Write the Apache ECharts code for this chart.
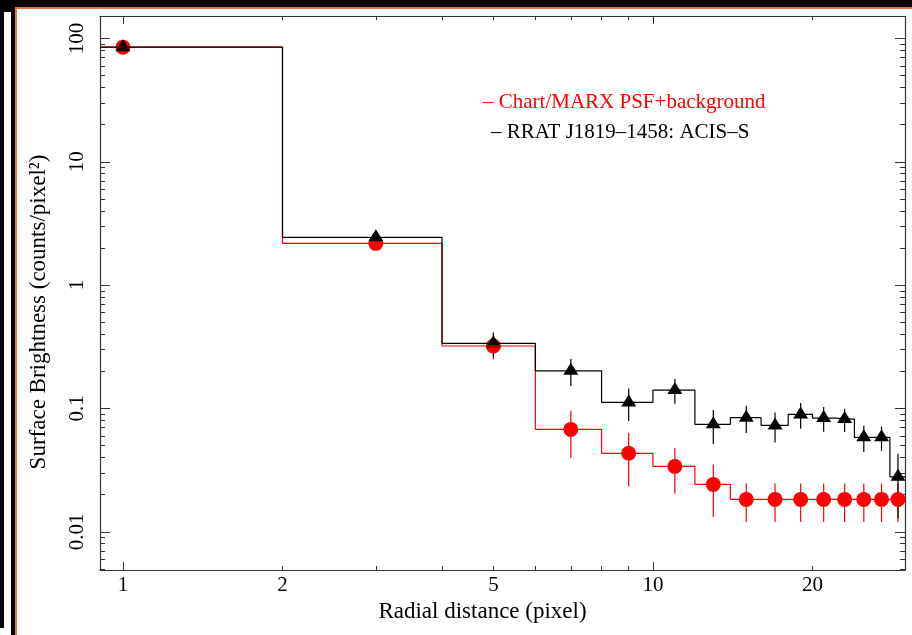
<!DOCTYPE html>
<html><head><meta charset="utf-8">
<script src="https://cdn.jsdelivr.net/npm/echarts@6/dist/echarts.min.js"></script>
<style>html,body{margin:0;padding:0;background:#fff}#c{width:912px;height:635px}</style>
</head><body><div id="c"></div>
<script>
// ---- data ----
const radius   = [1, 3, 5, 7, 9, 11, 13, 15, 17, 19, 21, 23, 25, 27, 29];
const binEdges = [0, 2, 4, 6, 8, 10, 12, 14, 16, 18, 20, 22, 24, 26, 28, 30];
const rratValues = [85, 2.44, 0.337, 0.202, 0.112, 0.141, 0.0743, 0.0841, 0.0729, 0.0895, 0.0836, 0.082, 0.0583, 0.0583, 0.0279];
const rratErrors = [2, 0.2, 0.075, 0.05, 0.033, 0.032, 0.023, 0.021, 0.02, 0.021, 0.019, 0.0175, 0.014, 0.013, 0.015];
const modelValues = [85, 2.18, 0.321, 0.0676, 0.0433, 0.0339, 0.0242, 0.0183, 0.0183, 0.0183, 0.0183, 0.0183, 0.0183, 0.0183, 0.0183];
const modelErrors = [2, 0.15, 0.072, 0.028, 0.02, 0.0136, 0.011, 0.0063, 0.0063, 0.0063, 0.0063, 0.0063, 0.0063, 0.0063, 0.0063];
const xTickLabels = [1, 2, 5, 10, 20];
const xMajorTicks = [1, 10];
const xMinorTicks = [2, 3, 4, 5, 6, 7, 8, 9, 20];
const yTickLabels = [0.01, 0.1, 1, 10, 100];
const yMajorTicks = [0.01, 0.1, 1, 10, 100];
const yMinorTicks = [0.005, 0.006, 0.007, 0.008, 0.009,
  0.02, 0.03, 0.04, 0.05, 0.06, 0.07, 0.08, 0.09,
  0.2, 0.3, 0.4, 0.5, 0.6, 0.7, 0.8, 0.9,
  2, 3, 4, 5, 6, 7, 8, 9,
  20, 30, 40, 50, 60, 70, 80, 90];
const modelName = 'Chart/MARX PSF+background';
const rratName = 'RRAT J1819\u20131458: ACIS\u2013S';

const X_MIN = 0.905, X_MAX = 29.9, Y_MIN = 0.0049, Y_MAX = 152;
const FONT = 'Liberation Serif';
const AX = '#333';

function stepData(vals) {
  const d = vals.map((v, i) => [Math.max(binEdges[i], X_MIN), v]);
  d.push([binEdges[binEdges.length - 1], vals[vals.length - 1]]);
  return d;
}
function errData(vals, errs) {
  return vals.map((v, i) => [radius[i], v - errs[i], v + errs[i]]);
}
function pointData(vals) { return vals.map((v, i) => [radius[i], v]); }
function errSeries(name, vals, errs, color) {
  return {
    name, type: 'custom', data: errData(vals, errs), encode: { x: 0, y: [1, 2] },
    renderItem(params, api) {
      const a = api.coord([api.value(0), api.value(1)]);
      const b = api.coord([api.value(0), api.value(2)]);
      return { type: 'line', shape: { x1: a[0], y1: a[1], x2: b[0], y2: b[1] },
        style: { stroke: color, lineWidth: 1.2 } };
    }
  };
}
function xAxisDef(pos, major, showLabel) {
  return {
    type: 'log', position: pos, min: X_MIN, max: X_MAX, gridIndex: 0,
    splitLine: { show: false },
    axisLine: { show: major, lineStyle: { color: AX, width: 1.2 } },
    axisTick: { show: true, inside: true, length: major ? 8 : 4,
      customValues: major ? xMajorTicks : xMinorTicks, lineStyle: { color: AX } },
    axisLabel: { show: showLabel, customValues: xTickLabels, margin: 5,
      fontFamily: FONT, fontSize: 21, color: '#000', formatter: v => String(v) },
    name: showLabel ? 'Radial distance (pixel)' : '',
    nameLocation: 'middle', nameGap: 28,
    nameTextStyle: { fontFamily: FONT, fontSize: 23, color: '#000', padding: [0, 40, 0, 0] }
  };
}
function yAxisDef(pos, major, showLabel) {
  return {
    type: 'log', position: pos, min: Y_MIN, max: Y_MAX, gridIndex: 0,
    splitLine: { show: false },
    axisLine: { show: major, lineStyle: { color: AX, width: 1.2 } },
    axisTick: { show: true, inside: true, length: major ? 10 : 5,
      customValues: major ? yMajorTicks : yMinorTicks, lineStyle: { color: AX } },
    axisLabel: { show: showLabel, customValues: yTickLabels, rotate: 90, margin: 12,
      fontFamily: FONT, fontSize: 21, color: '#000', formatter: v => String(v) },
    name: showLabel ? 'Surface Brightness (counts/pixel\u00b2)' : '',
    nameLocation: 'middle', nameGap: 50,
    nameTextStyle: { fontFamily: FONT, fontSize: 23, color: '#000', padding: [0, 38, 0, 0] }
  };
}

const chart = echarts.init(document.getElementById('c'), null, { renderer: 'canvas' });
chart.setOption({
  animation: false,
  backgroundColor: '#fff',
  graphic: [
    { type: 'rect', shape: { x: 0, y: 0, width: 912, height: 7 }, style: { fill: '#000' }, silent: true },
    { type: 'rect', shape: { x: 0, y: 0, width: 15, height: 12 }, style: { fill: '#000' }, silent: true },
    { type: 'rect', shape: { x: 0, y: 0, width: 4, height: 628 }, style: { fill: '#000' }, silent: true },
    { type: 'rect', shape: { x: 11, y: 0, width: 4, height: 635 }, style: { fill: '#000' }, silent: true },
    { type: 'rect', shape: { x: 15, y: 7, width: 897, height: 2 }, style: { fill: '#f0793a' }, silent: true },
    { type: 'rect', shape: { x: 15, y: 7, width: 2, height: 628 }, style: { fill: '#f0793a' }, silent: true }
  ],
  grid: { left: 100, right: 7, top: 16, bottom: 65, containLabel: false },
  legend: [
    { data: [modelName], left: 478, top: 92, orient: 'vertical', icon: 'none', itemWidth: 0, itemHeight: 0,
      padding: 0, selectedMode: false, formatter: '\u2013 {name}',
      textStyle: { color: '#ff0000', fontFamily: FONT, fontSize: 21 } },
    { data: [rratName], left: 486, top: 122, orient: 'vertical', icon: 'none', itemWidth: 0, itemHeight: 0,
      padding: 0, selectedMode: false, formatter: '\u2013 {name}',
      textStyle: { color: '#000', fontFamily: FONT, fontSize: 21 } }
  ],
  xAxis: [
    xAxisDef('bottom', true, true),
    xAxisDef('bottom', false, false),
    xAxisDef('top', true, false),
    xAxisDef('top', false, false)
  ],
  yAxis: [
    yAxisDef('left', true, true),
    yAxisDef('left', false, false),
    yAxisDef('right', true, false),
    yAxisDef('right', false, false)
  ],
  series: [
    { name: modelName, type: 'line', step: 'end', data: stepData(modelValues), showSymbol: false,
      lineStyle: { color: '#ff0000', width: 1.2 }, itemStyle: { color: '#ff0000' } },
    errSeries(modelName, modelValues, modelErrors, '#ff0000'),
    { name: modelName, type: 'scatter', data: pointData(modelValues), symbol: 'circle', symbolSize: 15,
      itemStyle: { color: '#ff0000', opacity: 1 } },
    { name: rratName, type: 'line', step: 'end', data: stepData(rratValues), showSymbol: false,
      lineStyle: { color: '#000', width: 1.2 }, itemStyle: { color: '#000' } },
    errSeries(rratName, rratValues, rratErrors, '#000'),
    { name: rratName, type: 'scatter', data: pointData(rratValues), symbol: 'triangle', symbolSize: [15, 12],
      symbolOffset: [0, -2], itemStyle: { color: '#000', opacity: 1 } }
  ]
});
</script>
</body></html>
